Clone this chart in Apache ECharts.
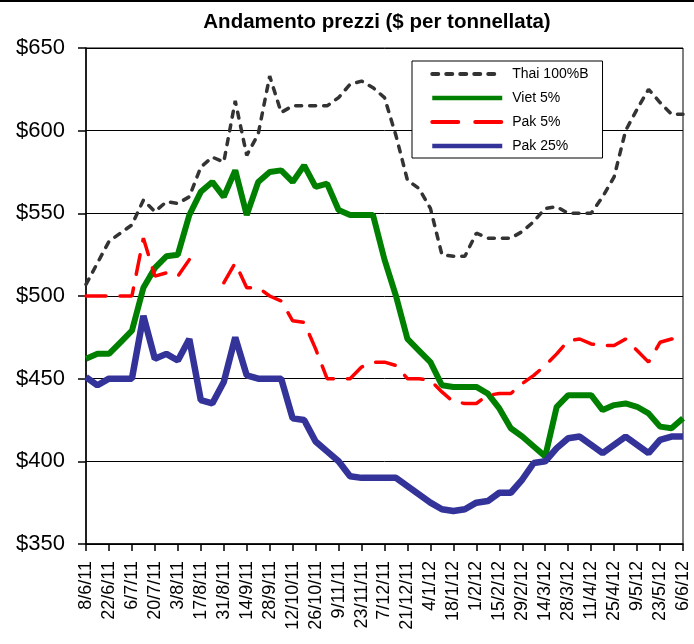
<!DOCTYPE html>
<html>
<head>
<meta charset="utf-8">
<script src="https://cdn.jsdelivr.net/npm/echarts@6/dist/echarts.min.js"></script>
<style>
html,body{margin:0;padding:0;background:#fff;}
#chart{width:694px;height:644px;}
</style>
</head>
<body>
<div id="chart"></div>
<script>
var categories = ['8/6/11','15/6/11','22/6/11','29/6/11','6/7/11','13/7/11','20/7/11','27/7/11','3/8/11','10/8/11',
  '17/8/11','24/8/11','31/8/11','7/9/11','14/9/11','21/9/11','28/9/11','5/10/11','12/10/11','19/10/11',
  '26/10/11','2/11/11','9/11/11','16/11/11','23/11/11','30/11/11','7/12/11','14/12/11','21/12/11','28/12/11',
  '4/1/12','11/1/12','18/1/12','25/1/12','1/2/12','8/2/12','15/2/12','22/2/12','29/2/12','7/3/12',
  '14/3/12','21/3/12','28/3/12','4/4/12','11/4/12','18/4/12','25/4/12','2/5/12','9/5/12','16/5/12',
  '23/5/12','30/5/12','6/6/12'];

var thai100B = [507,520,533,538,543,558,551,557,556,560,
  578,584,581,618,585,598,633,611,615,615,
  615,615,620,628,630,626,620,597,570,565,
  553,525,524,524,538,535,535,535,539,545,
  553,554,550,550,550,560,572,600,613,625,
  617,610,610];

var viet5 = [462,465,465,472,479,505,517,524,525,549,
  563,569,560,576,549,569,575,576,569,579,
  566,568,552,549,549,549,522,500,474,467,
  460,446,445,445,445,441,432,420,415,409,
  403,433,440,440,440,431,434,435,433,429,
  421,420,426];

var pak5 = [500,500,500,500,500,535,512,514,512,522,
  null,null,508,520,505,505,500,497,485,484,
  468,450,450,450,457,460,460,458,450,450,
  449,442,436,435,435,440,441,441,447,452,
  458,465,473,474,471,470,470,474,467,460,
  472,474,474];

var pak25 = [451,446,450,450,450,488,462,465,461,474,
  437,435,448,475,452,450,450,450,426,425,
  412,406,400,391,390,390,390,390,385,380,
  375,371,370,371,375,376,381,381,389,399,
  400,408,414,415,410,405,410,415,410,405,
  413,415,415];

var seriesNames = ['Thai 100%B','Viet 5%','Pak 5%','Pak 25%'];
var yTicks = {min:350, max:650, step:50};

var FONT = 'Liberation Sans, Arial, sans-serif';
var chart = echarts.init(document.getElementById('chart'), null, {renderer:'canvas'});

chart.setOption({
  animation:false,
  backgroundColor:'#fff',
  title:{
    text:'Andamento prezzi ($ per tonnellata)',
    left:372, top:7, textAlign:'center',
    textStyle:{fontFamily:FONT, fontSize:20.5, fontWeight:'bold', color:'#000'}
  },
  graphic:[{type:'rect', shape:{x:0,y:0,width:694,height:2}, style:{fill:'#000'}}],
  legend:{
    orient:'vertical', left:412, top:61,
    padding:[6,14,5,18], itemWidth:70, itemHeight:14, itemGap:10,
    borderColor:'#000', borderWidth:1, backgroundColor:'#fff',
    itemStyle:{opacity:0, borderWidth:0},
    textStyle:{fontFamily:FONT, fontSize:14, color:'#000', padding:[0,0,0,5]},
    data:[
      {name:seriesNames[0], lineStyle:{width:4, type:[6,8], cap:'round', color:'#333333'}},
      {name:seriesNames[1], lineStyle:{width:4.5, color:'#008000'}},
      {name:seriesNames[2], lineStyle:{width:4, type:[26,17], cap:'round', color:'#ff0000'}},
      {name:seriesNames[3], lineStyle:{width:4.5, color:'#333399'}}
    ]
  },
  grid:{left:86, right:11, top:48, bottom:100, show:true, borderColor:'#000', borderWidth:1, backgroundColor:'transparent'},
  xAxis:{
    type:'category', data:categories, boundaryGap:false,
    axisLine:{lineStyle:{color:'#000', width:1.5}},
    axisTick:{show:true, interval:1, length:7, lineStyle:{color:'#000', width:1.5}},
    axisLabel:{interval:1, rotate:90, fontFamily:FONT, fontSize:18, color:'#000', margin:17},
    splitLine:{show:false}
  },
  yAxis:{
    type:'value', min:yTicks.min, max:yTicks.max, interval:yTicks.step,
    axisLine:{show:true, lineStyle:{color:'#000', width:1.5}},
    axisTick:{show:true, length:8, lineStyle:{color:'#000', width:1.5}},
    axisLabel:{fontFamily:FONT, fontSize:22, color:'#000', margin:21, formatter:function(v){return '$'+v;}},
    splitLine:{show:true, lineStyle:{color:'#000', width:1}}
  },
  series:[
    {name:seriesNames[0], type:'line', data:thai100B, symbol:'none',
     lineStyle:{color:'#333333', width:3.5, type:[6,8], cap:'round'}, itemStyle:{color:'#333333'}},
    {name:seriesNames[1], type:'line', data:viet5, symbol:'none',
     lineStyle:{color:'#008000', width:6}, itemStyle:{color:'#008000'}},
    {name:seriesNames[2], type:'line', data:pak5, symbol:'none', connectNulls:false,
     lineStyle:{color:'#ff0000', width:3.5, type:[20,14], cap:'round'}, itemStyle:{color:'#ff0000'}},
    {name:seriesNames[3], type:'line', data:pak25, symbol:'none',
     lineStyle:{color:'#333399', width:6.5}, itemStyle:{color:'#333399'}}
  ]
});
</script>
</body>
</html>
